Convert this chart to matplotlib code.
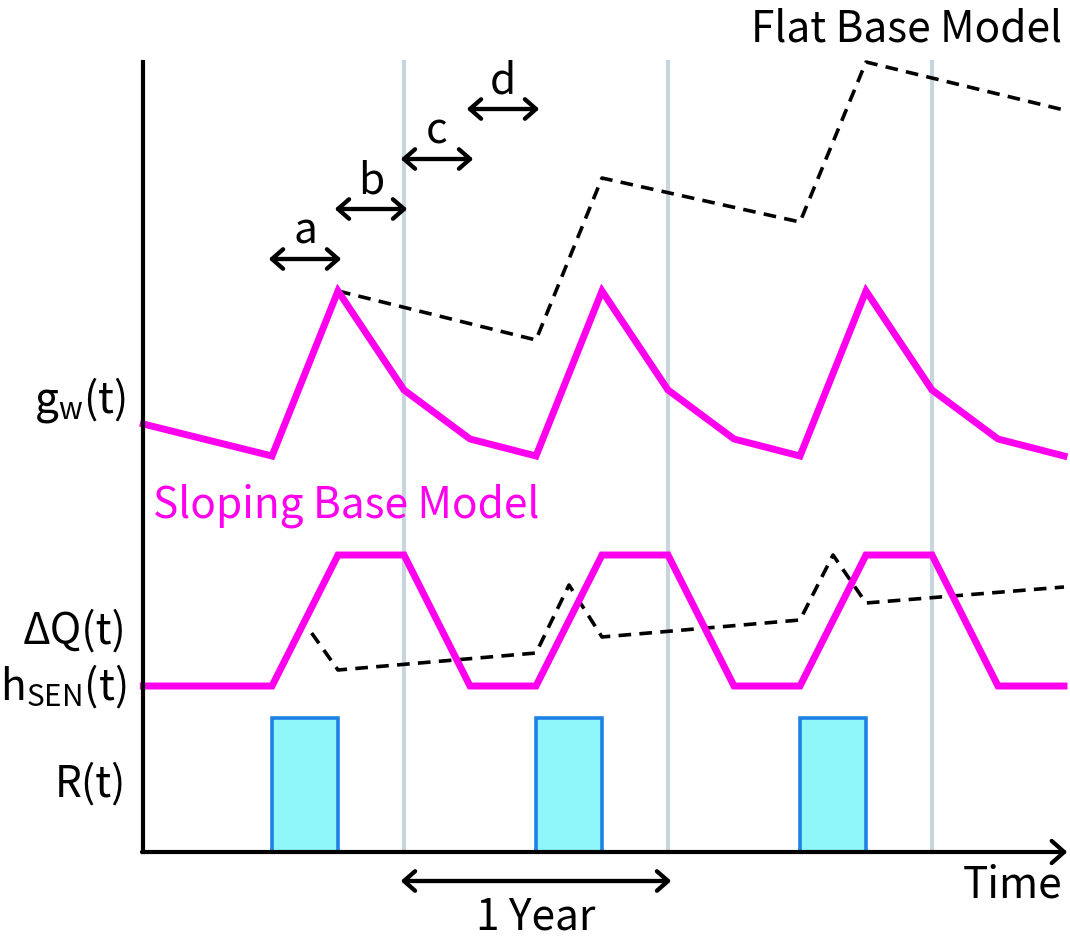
import matplotlib.pyplot as plt
import numpy as np

plt.rcParams['font.family'] = ['Noto Sans CJK JP', 'DejaVu Sans']
plt.rcParams['mathtext.fontset'] = 'custom'
plt.rcParams['mathtext.rm'] = 'Noto Sans CJK JP'

# time in quarters of a year, 0 = start of the first rainy season
t_start = -1.95
t_quarters = [t_start, 0, 1, 2, 3, 4, 5, 6, 7, 8, 9, 10, 11, 12]

# groundwater level g_w(t), sloping base model
gw = [428, 396, 561, 462, 413, 396, 561, 462, 413, 396, 561, 462, 413, 396]

# flat base model (dashed, upper)
t_flat = [1, 4, 5, 8, 9, 12]
gw_flat = [561, 512, 674, 630, 790, 742]

# storage change dQ(t) / h_SEN(t)
dq = [166, 166, 297, 297, 166, 166, 297, 297, 166, 166, 297, 297, 166, 166]

# flat base model for dQ (dashed, lower)
t_dq_flat = [0.6, 1, 4, 4.5, 5, 8, 8.5, 9, 12]
dq_flat = [219, 182, 199, 267, 215, 232, 297, 249, 265]

# rainfall R(t)
t_rain = [0, 4, 8]
rain = [134, 134, 134]

year_lines = [2, 6, 10]
top = 790

magenta = '#ff00ee'
fs = 30.5
fig = plt.figure(figsize=(10.7, 9.4), dpi=100)
ax = fig.add_axes([0, 0, 1, 1])
ax.set_xlim(-272 / 66, 798 / 66)
ax.set_ylim(-88, 852)
ax.axis('off')

for x in year_lines:
    ax.plot([x, x], [0, top], color='#c9d5dc', lw=3, zorder=1)

ax.bar(t_rain, rain, width=1, align='edge', color='#8ff7fa',
       edgecolor='#1f80e6', linewidth=2.6, zorder=2)

ax.plot(t_quarters, gw, color=magenta, lw=5, solid_joinstyle='miter', zorder=4)
ax.plot(t_quarters, dq, color=magenta, lw=5, solid_joinstyle='miter', zorder=4)
ax.plot(t_flat, gw_flat, color='black', lw=2.6, ls=(0, (3.5, 2.3)), zorder=3)
ax.plot(t_dq_flat, dq_flat, color='black', lw=2.6, ls=(0, (3.5, 2.3)), zorder=3)

# axes
ax.plot([t_start, t_start], [0, top], color='black', lw=3, zorder=5)
ax.annotate('', xy=(12.05, 0), xytext=(t_start - 0.02, 0),
            arrowprops=dict(arrowstyle='->,head_length=0.9,head_width=0.8',
                            lw=3, color='black', shrinkA=0, shrinkB=0), zorder=5)

arrow = dict(arrowstyle='<->,head_length=0.8,head_width=0.7', lw=3.1,
             color='black', shrinkA=0, shrinkB=0)
# quarter arrows a-d
for i, lab in enumerate(['a', 'b', 'c', 'd']):
    y = 593 + 50 * i
    ax.annotate('', xy=(i - 0.05, y), xytext=(i + 1.05, y), arrowprops=arrow)
    ax.text(i + 0.5, y + 28, lab, fontsize=fs, ha='center', va='center')

# one year arrow
ax.annotate('', xy=(1.95, -29), xytext=(6.05, -29), arrowprops=arrow)
ax.text(4, -66, '1 Year', fontsize=fs, ha='center', va='center')
ax.text(11.97, -33, 'Time', fontsize=fs, ha='right', va='center')

ax.text(11.97, 822, 'Flat Base Model', fontsize=fs, ha='right', va='center')
ax.text(-1.8, 346, 'Sloping Base Model', fontsize=fs, ha='left', va='center',
        color=magenta)

lx = -2.21
ax.text(lx, 452, r'g$_{\mathrm{w}}$(t)', fontsize=fs, ha='right', va='center')
ax.text(lx, 220, '\u0394Q(t)', fontsize=fs, ha='right', va='center')
ax.text(lx, 166, r'h$_{\mathrm{SEN}}$(t)', fontsize=fs, ha='right', va='center')
ax.text(lx, 67, 'R(t)', fontsize=fs, ha='right', va='center')

plt.savefig('out.png', dpi=100)
